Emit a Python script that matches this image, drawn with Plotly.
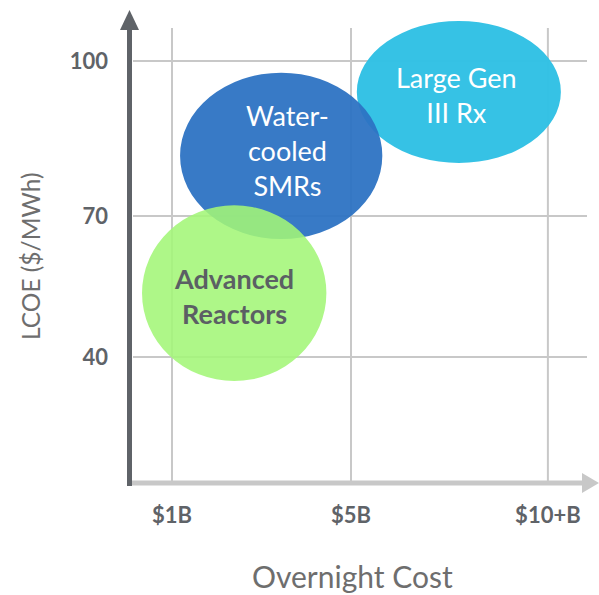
import plotly.graph_objects as go

# ---- data ----
x_tick_pos = [1, 5, 9.4]
x_tick_text = ["$1B", "$5B", "$10+B"]
y_tick_pos = [40, 70, 103]
y_tick_text = ["40", "70", "100"]

groups = ["Large Gen<br>III Rx", "Water-<br>cooled<br>SMRs", "Advanced<br>Reactors"]
center_x = [7.41, 3.44, 2.39]
center_y = [96.4, 82.8, 53.6]
half_w = [2.28, 2.26, 2.06]
half_h = [15.1, 17.7, 18.7]

# ---- style ----
W, H = 599, 595
ML, MR, MT, MB = 129, 9, 10, 112
PW, PH = W - ML - MR, H - MT - MB
X0, X1 = 0.039, 10.341
Y0, Y1 = 13.19, 113.83

fills = ["rgba(47,192,228,0.97)", "rgba(45,115,195,0.95)", "rgba(163,246,120,0.88)"]
text_colors = ["white", "white", "#5b5f64"]
text_bold = [False, False, True]
text_shift = [(-2, -3), (6, 5), (0, -3)]
FONT = "Lato, 'Open Sans', sans-serif"
DARK = "#5f6368"
GRID = "#c8c8c8"


def px(p):
    return (p - ML) / PW


def py(p):
    return (H - MB - p) / PH


fig = go.Figure()
fig.add_trace(go.Scatter(x=[X0], y=[Y0], mode="markers", marker=dict(opacity=0),
                         hoverinfo="skip", showlegend=False))

shapes = []
# grid lines
for xv in x_tick_pos:
    shapes.append(dict(type="line", xref="x", yref="paper", x0=xv, x1=xv,
                       y0=py(483), y1=py(28), line=dict(color=GRID, width=2), layer="below"))
for yv in y_tick_pos:
    shapes.append(dict(type="line", xref="paper", yref="y", x0=px(133), x1=px(587),
                       y0=yv, y1=yv, line=dict(color=GRID, width=2), layer="below"))

# ellipses
for cx, cy, hw, hh, fc in zip(center_x, center_y, half_w, half_h, fills):
    shapes.append(dict(type="circle", xref="x", yref="y", x0=cx - hw, x1=cx + hw,
                       y0=cy - hh, y1=cy + hh, fillcolor=fc, line=dict(width=0), layer="above"))

# x axis (light gray) with arrow
shapes.append(dict(type="line", xref="paper", yref="paper", x0=px(127), x1=px(586),
                   y0=py(483), y1=py(483), line=dict(color=GRID, width=5)))
shapes.append(dict(type="path", xref="paper", yref="paper",
                   path=f"M {px(582)},{py(473)} L {px(599)},{py(483)} L {px(582)},{py(493)} Z",
                   fillcolor=GRID, line=dict(width=0)))
# y axis (dark gray) with arrow
shapes.append(dict(type="line", xref="paper", yref="paper", x0=px(129.5), x1=px(129.5),
                   y0=py(486), y1=py(28), line=dict(color=DARK, width=5)))
shapes.append(dict(type="path", xref="paper", yref="paper",
                   path=f"M {px(120)},{py(30)} L {px(129.5)},{py(10)} L {px(139)},{py(30)} Z",
                   fillcolor=DARK, line=dict(width=0)))

annotations = []
for g, cx, cy, tc, b, (dx, dy) in zip(groups, center_x, center_y, text_colors, text_bold, text_shift):
    txt = f"<b>{g}</b>" if b else g
    annotations.append(dict(x=cx, y=cy, xref="x", yref="y", text=txt, showarrow=False,
                            font=dict(family=FONT, size=27, color=tc), align="center",
                            xshift=dx, yshift=dy))

annotations.append(dict(x=px(352), y=py(576), xref="paper", yref="paper", text="Overnight Cost",
                        showarrow=False, font=dict(family=FONT, size=30, color="#6e6e6e"),
                        xanchor="center", yanchor="middle"))
annotations.append(dict(x=px(30), y=py(257), xref="paper", yref="paper", text="LCOE ($/MWh)",
                        showarrow=False, textangle=-90, font=dict(family=FONT, size=24.5, color="#6e6e6e"),
                        xanchor="center", yanchor="middle"))

fig.update_layout(
    width=W, height=H,
    margin=dict(l=ML, r=MR, t=MT, b=MB),
    paper_bgcolor="white", plot_bgcolor="white",
    shapes=shapes, annotations=annotations,
    showlegend=False,
    xaxis=dict(range=[X0, X1], tickvals=x_tick_pos, ticktext=[f"<b>{t}</b>" for t in x_tick_text],
               showgrid=False, zeroline=False, showline=False, ticks="",
               tickfont=dict(family=FONT, size=22, color=DARK), ticklabelstandoff=17),
    yaxis=dict(range=[Y0, Y1], tickvals=y_tick_pos, ticktext=[f"<b>{t}</b>" for t in y_tick_text],
               showgrid=False, zeroline=False, showline=False, ticks="",
               tickfont=dict(family=FONT, size=22, color=DARK), ticklabelstandoff=20),
)

fig.write_html("out.html")
